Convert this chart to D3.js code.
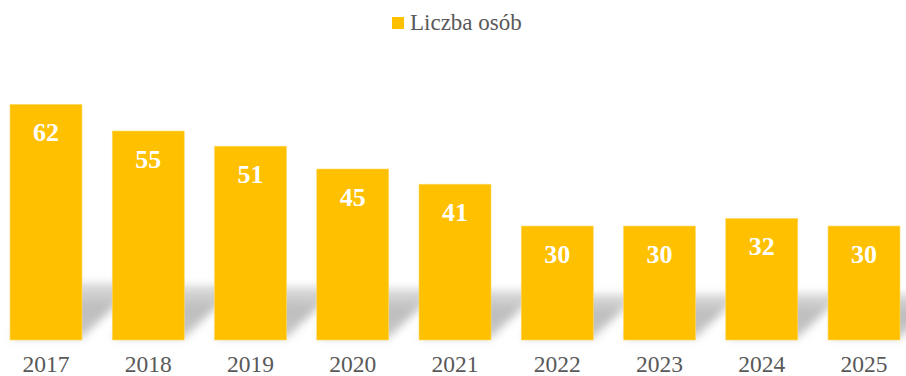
<!DOCTYPE html>
<html>
<head>
<meta charset="utf-8">
<script src="https://cdn.jsdelivr.net/npm/d3@7/dist/d3.min.js"></script>
<style>
  html, body { margin: 0; padding: 0; background: #fff; }
  svg { display: block; }
</style>
</head>
<body>
<svg id="chart" width="906" height="376"></svg>
<script>
// Number of people per year
const years = ["2017", "2018", "2019", "2020", "2021", "2022", "2023", "2024", "2025"];
const counts = [62, 55, 51, 45, 41, 30, 30, 32, 30];
const seriesName = "Liczba osób";

const W = 906, H = 376;
const baseY = 340;
const barColor = "#FFC000";
const textGray = "#595959";
const serif = "'Liberation Serif', 'Times New Roman', serif";

const svg = d3.select("#chart");

const x = d3.scaleBand()
  .domain(years)
  .range([10, 900])
  .paddingInner(0.296)
  .paddingOuter(0);

const y = d3.scaleLinear()
  .domain([0, 70])
  .range([baseY, baseY - 70 * 3.8]);

// Soft floor shadow behind each bar
const defs = svg.append("defs");
const blur = defs.append("filter").attr("id", "soft")
  .attr("x", "-30%").attr("y", "-30%").attr("width", "160%").attr("height", "160%");
blur.append("feGaussianBlur").attr("stdDeviation", 4.5);

const grad = defs.append("linearGradient").attr("id", "shadeGrad")
  .attr("x1", 0).attr("y1", 1).attr("x2", 0).attr("y2", 0);
grad.append("stop").attr("offset", "0%").attr("stop-color", "#c8c8c8");
grad.append("stop").attr("offset", "55%").attr("stop-color", "#bdbdbd");
grad.append("stop").attr("offset", "100%").attr("stop-color", "#dedede");

const data = years.map((yr, i) => ({ year: yr, value: counts[i] }));

svg.append("g")
  .selectAll("path")
  .data(data)
  .join("path")
  .attr("filter", "url(#soft)")
  .attr("fill", "url(#shadeGrad)")
  .attr("d", d => {
    const x0 = x(d.year), x1 = x0 + x.bandwidth();
    const bh = baseY - y(d.value);
    const h = 36 + 0.09 * bh;
    const dx = h * 1.0;
    return `M${x0},${baseY - 2} L${x1},${baseY - 2} L${x1 + dx},${baseY - h} L${x0 + dx},${baseY - h} Z`;
  });

// Bars
svg.append("g")
  .selectAll("rect")
  .data(data)
  .join("rect")
  .attr("x", d => x(d.year))
  .attr("y", d => y(d.value))
  .attr("width", x.bandwidth())
  .attr("height", d => baseY - y(d.value))
  .attr("fill", barColor)
  .attr("stroke", "#ffd966")
  .attr("stroke-width", 0.6);

// Value labels inside the bars
svg.append("g")
  .selectAll("text")
  .data(data)
  .join("text")
  .attr("x", d => x(d.year) + x.bandwidth() / 2)
  .attr("y", d => y(d.value) + 37)
  .attr("text-anchor", "middle")
  .attr("fill", "#ffffff")
  .attr("font-family", serif)
  .attr("font-weight", "bold")
  .attr("font-size", "26px")
  .text(d => d.value);

// Category axis
const xAxis = svg.append("g")
  .attr("transform", `translate(0,${baseY})`)
  .attr("font-family", serif)
  .call(d3.axisBottom(x).tickSize(0).tickPadding(15));
xAxis.select(".domain").remove();
xAxis.selectAll("text")
  .attr("fill", textGray)
  .attr("font-family", serif)
  .attr("font-size", "23.5px");

// Legend
const legend = svg.append("g").attr("transform", "translate(392,17)");
legend.append("rect")
  .attr("width", 12).attr("height", 12)
  .attr("fill", barColor);
legend.append("text")
  .attr("x", 18).attr("y", 12.5)
  .attr("fill", textGray)
  .attr("font-family", serif)
  .attr("font-size", "23px")
  .text(seriesName);
</script>
</body>
</html>
